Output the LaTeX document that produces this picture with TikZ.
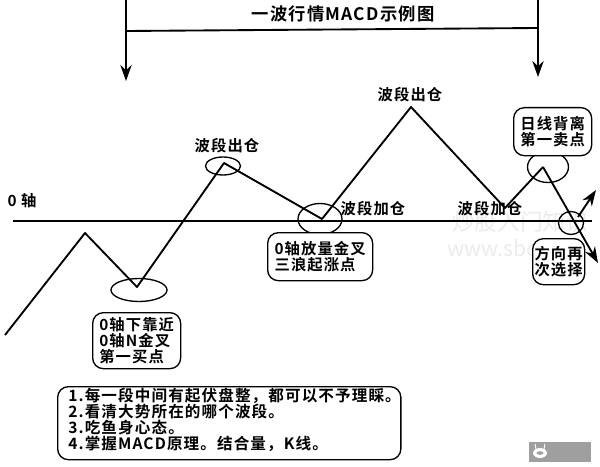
\documentclass[tikz,border=0pt]{standalone}
\usepackage{fontspec}
\newfontfamily\cjk[LetterSpace=7]{Noto Sans CJK SC Bold}
\newfontfamily\cjkmark{Noto Sans CJK SC}
\usetikzlibrary{arrows.meta,positioning}
\tikzset{
  linea/.style={line width=1.4pt,black},
  flecha/.style={line width=1.4pt,black,-{Stealth[length=12pt,width=8.5pt]}},
  circulo/.style={line width=1pt,black},
  etiqueta/.style={inner sep=0pt,font=\cjk\fontsize{11.5}{12}\selectfont},
  caja/.style={draw=black,line width=1pt,rounded corners=8pt,fill=white,inner sep=0pt,anchor=north west,
    font=\cjk\fontsize{11.5}{12}\selectfont,align=left},
  marca/.style={inner sep=0pt,gray!16}
}
\begin{document}
\begin{tikzpicture}[x=0.75pt,y=-0.75pt]
\useasboundingbox (0,0) rectangle (600,467);
% marca de agua
\node[marca,font=\cjkmark\fontsize{17}{17}\selectfont] (sello) at (520,222) {炒股入门知识};
\node[marca,anchor=west,font=\cjkmark\fontsize{16}{16}\selectfont] (web) at (447,248) {www.sbo};
\fill[gray!75] (529,442) rectangle (591,462);
\fill[white] (540,453) ellipse (7 and 5);
\fill[gray!75] (540,453) ellipse (3.5 and 1.8);
\draw[white,line width=0.7pt] (536,449) -- (535,444) (544,449) -- (545,444);
% cabecera
\coordinate (ini) at (126,0);
\coordinate (iniFin) at (126,81);
\coordinate (fin) at (538,0);
\coordinate (finFin) at (538,77);
\coordinate (barraA) at (126,31);
\coordinate (barraB) at (538,28);
\draw[flecha] (ini) -- (iniFin);
\draw[flecha] (fin) -- (finFin);
\draw[linea] (barraA) -- (barraB);
\node[etiqueta,font=\cjk\fontsize{13}{13}\selectfont] (titulo) at (343,14) {一波行情MACD示例图};
% eje
\coordinate (ejeA) at (13,221);
\coordinate (ejeB) at (592,221);
\draw[linea] (ejeA) -- (ejeB);
\node[etiqueta] (cero) at (22,201) {0 轴};
% onda
\coordinate (p0) at (5,335);
\coordinate (p1) at (85,233);
\coordinate (p2) at (137,287);
\coordinate (p3) at (224,163);
\coordinate (p4) at (322,219);
\coordinate (p5) at (411,107);
\coordinate (p6) at (505,208);
\coordinate (p7) at (543,167);
\coordinate (abajo) at (598,263);
\coordinate (salto) at (578,217);
\coordinate (arriba) at (596,190);
\draw[linea,line join=round] (p0) -- (p1) -- (p2) -- (p3) -- (p4) -- (p5) -- (p6) -- (p7);
\draw[flecha] (p7) -- (abajo);
\draw[flecha] (salto) -- (arriba);
% circulos
\foreach \x/\y/\a/\b in {139/290/28/11.5,223/166/17.5/9,320/219/22/15.5,548/167/20.5/15.5,571/223/12.5/11.5}{
  \draw[circulo] (\x,\y) ellipse (\a*0.75pt and \b*0.75pt);}
% etiquetas
\node[etiqueta] (salidaA) at (227,146) {波段出仓};
\node[etiqueta] (salidaB) at (410,95) {波段出仓};
\node[etiqueta] (entradaA) at (373,209) {波段加仓};
\node[etiqueta] (entradaB) at (490,209) {波段加仓};
% cajas
\node[caja,minimum width=66pt,minimum height=42pt] (compra) at (92,312) {0轴下靠近\\0轴N金叉\\第一买点};
\node[caja,minimum width=78.75pt,minimum height=36pt] (cruce) at (267,232) {0轴放量金叉\\三浪起涨点};
\node[caja,minimum width=58.5pt,minimum height=36pt] (venta) at (513,107) {日线背离\\第一卖点};
\node[caja,minimum width=39pt,minimum height=34.5pt] (opcion) at (532,238) {方向再\\次选择};
\node[caja,minimum width=256.5pt,minimum height=54.75pt,font=\cjk\fontsize{11.7}{12}\selectfont] (notas) at (57,386) {\hspace*{8pt}1.每一段中间有起伏盘整，都可以不予理睬。\\\hspace*{8pt}2.看清大势所在的哪个波段。\\\hspace*{8pt}3.吃鱼身心态。\\\hspace*{8pt}4.掌握MACD原理。结合量，K线。\rule[-6pt]{0pt}{0pt}};
\end{tikzpicture}
\end{document}
